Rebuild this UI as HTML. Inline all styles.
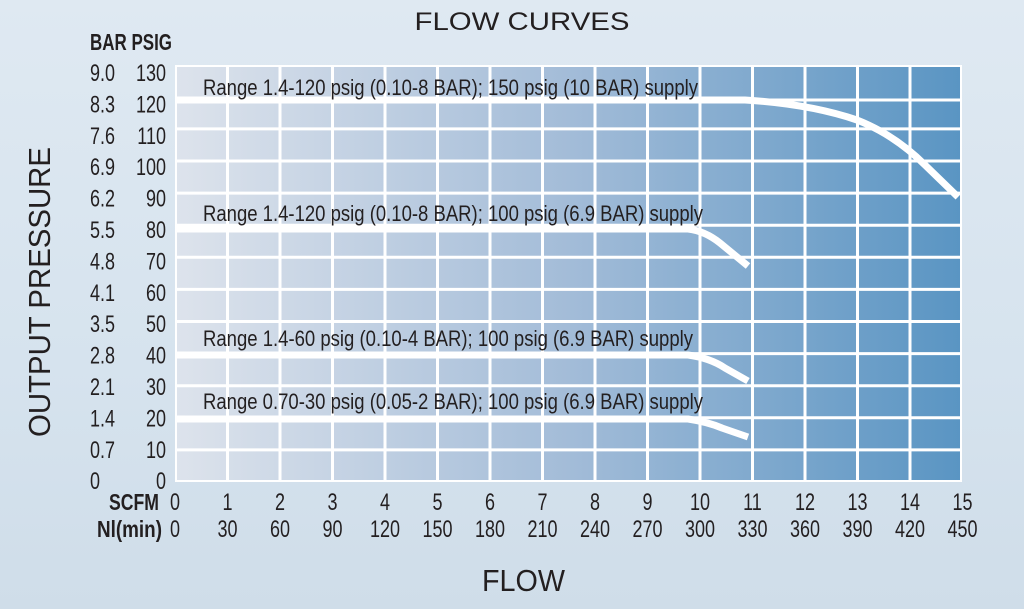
<!DOCTYPE html>
<html><head><meta charset="utf-8"><style>
html,body{margin:0;padding:0;}
body{width:1024px;height:609px;overflow:hidden;background:linear-gradient(180deg,#dfe9f2 0%,#d6e3ee 60%,#cfdde9 100%);}
svg{display:block;font-family:"Liberation Sans",sans-serif;}
</style></head><body>
<svg width="1024" height="609" viewBox="0 0 1024 609" xmlns="http://www.w3.org/2000/svg">
<defs>
<linearGradient id="pg" x1="0" y1="0" x2="1" y2="0">
<stop offset="0" stop-color="#dde3ec"/>
<stop offset="0.5" stop-color="#a3bcd8"/>
<stop offset="1" stop-color="#5a95c3"/>
</linearGradient>
</defs>
<rect x="175" y="65" width="787" height="417" fill="#fff"/>
<rect x="177" y="67" width="783" height="413" fill="url(#pg)"/>
<g stroke="#fff" stroke-width="3">
<line x1="227.5" y1="65" x2="227.5" y2="482"/><line x1="280" y1="65" x2="280" y2="482"/><line x1="332.5" y1="65" x2="332.5" y2="482"/><line x1="385" y1="65" x2="385" y2="482"/><line x1="437.5" y1="65" x2="437.5" y2="482"/><line x1="490" y1="65" x2="490" y2="482"/><line x1="542.5" y1="65" x2="542.5" y2="482"/><line x1="595" y1="65" x2="595" y2="482"/><line x1="647.5" y1="65" x2="647.5" y2="482"/><line x1="700" y1="65" x2="700" y2="482"/><line x1="752.5" y1="65" x2="752.5" y2="482"/><line x1="805" y1="65" x2="805" y2="482"/><line x1="857.5" y1="65" x2="857.5" y2="482"/><line x1="910" y1="65" x2="910" y2="482"/>
<line x1="175" y1="449.9" x2="962" y2="449.9"/><line x1="175" y1="417.8" x2="962" y2="417.8"/><line x1="175" y1="385.7" x2="962" y2="385.7"/><line x1="175" y1="353.6" x2="962" y2="353.6"/><line x1="175" y1="321.5" x2="962" y2="321.5"/><line x1="175" y1="289.4" x2="962" y2="289.4"/><line x1="175" y1="257.3" x2="962" y2="257.3"/><line x1="175" y1="225.2" x2="962" y2="225.2"/><line x1="175" y1="193.1" x2="962" y2="193.1"/><line x1="175" y1="161" x2="962" y2="161"/><line x1="175" y1="128.9" x2="962" y2="128.9"/><line x1="175" y1="100" x2="962" y2="100"/>
</g>
<g stroke="#fff" stroke-width="7" fill="none">
<path d="M175 100 L745 100 Q810 104 857 120 Q895 135 925 165 L958 197"/>
<path d="M175 229 L688 229 Q705 231 720 243 L748 266"/>
<path d="M175 355 L688 355 Q710 358 725 368 L748 381"/>
<path d="M175 419 L688 419 Q708 422 722 428 L748 437"/>
</g>
<g fill="#231f20" font-size="22">
<text x="203" y="95" textLength="495" lengthAdjust="spacingAndGlyphs">Range 1.4-120 psig (0.10-8 BAR); 150 psig (10 BAR) supply</text>
<text x="203" y="221" textLength="500" lengthAdjust="spacingAndGlyphs">Range 1.4-120 psig (0.10-8 BAR); 100 psig (6.9 BAR) supply</text>
<text x="203" y="346" textLength="490" lengthAdjust="spacingAndGlyphs">Range 1.4-60 psig (0.10-4 BAR); 100 psig (6.9 BAR) supply</text>
<text x="203" y="409" textLength="500" lengthAdjust="spacingAndGlyphs">Range 0.70-30 psig (0.05-2 BAR); 100 psig (6.9 BAR) supply</text>
</g>
<text x="522" y="30" font-size="25" text-anchor="middle" fill="#231f20" textLength="215" lengthAdjust="spacingAndGlyphs">FLOW CURVES</text>
<text x="523.5" y="591" font-size="31" text-anchor="middle" fill="#231f20" textLength="83" lengthAdjust="spacingAndGlyphs">FLOW</text>
<text transform="translate(50,292) rotate(-90)" font-size="31" text-anchor="middle" fill="#231f20" textLength="290" lengthAdjust="spacingAndGlyphs">OUTPUT PRESSURE</text>
<text x="90" y="50" font-size="23" font-weight="bold" fill="#231f20" textLength="82" lengthAdjust="spacingAndGlyphs">BAR PSIG</text>
<g font-size="24" fill="#231f20">
<g transform="translate(90,0) scale(0.75,1)">
<text x="0" y="81">9.0</text><text x="0" y="112.4">8.3</text><text x="0" y="143.8">7.6</text><text x="0" y="175.2">6.9</text><text x="0" y="206.6">6.2</text><text x="0" y="238">5.5</text><text x="0" y="269.4">4.8</text><text x="0" y="300.8">4.1</text><text x="0" y="332.2">3.5</text><text x="0" y="363.6">2.8</text><text x="0" y="395">2.1</text><text x="0" y="426.4">1.4</text><text x="0" y="457.8">0.7</text><text x="0" y="489.2">0</text>
</g>
<g transform="translate(166,0) scale(0.75,1)" text-anchor="end">
<text x="0" y="81">130</text><text x="0" y="112.4">120</text><text x="0" y="143.8">110</text><text x="0" y="175.2">100</text><text x="0" y="206.6">90</text><text x="0" y="238">80</text><text x="0" y="269.4">70</text><text x="0" y="300.8">60</text><text x="0" y="332.2">50</text><text x="0" y="363.6">40</text><text x="0" y="395">30</text><text x="0" y="426.4">20</text><text x="0" y="457.8">10</text><text x="0" y="489.2">0</text>
</g>
</g>
<text x="159" y="510" font-size="23" font-weight="bold" text-anchor="end" fill="#231f20" textLength="50" lengthAdjust="spacingAndGlyphs">SCFM</text>
<text x="162" y="537" font-size="23" font-weight="bold" text-anchor="end" fill="#231f20" textLength="65" lengthAdjust="spacingAndGlyphs">Nl(min)</text>
<g font-size="24" fill="#231f20" text-anchor="middle">
<g transform="scale(0.75,1)">
<text x="233.3" y="510">0</text><text x="303.3" y="510">1</text><text x="373.3" y="510">2</text><text x="443.3" y="510">3</text><text x="513.3" y="510">4</text><text x="583.3" y="510">5</text><text x="653.3" y="510">6</text><text x="723.3" y="510">7</text><text x="793.3" y="510">8</text><text x="863.3" y="510">9</text><text x="933.3" y="510">10</text><text x="1003.3" y="510">11</text><text x="1073.3" y="510">12</text><text x="1143.3" y="510">13</text><text x="1213.3" y="510">14</text><text x="1283.3" y="510">15</text>
<text x="233.3" y="537">0</text><text x="303.3" y="537">30</text><text x="373.3" y="537">60</text><text x="443.3" y="537">90</text><text x="513.3" y="537">120</text><text x="583.3" y="537">150</text><text x="653.3" y="537">180</text><text x="723.3" y="537">210</text><text x="793.3" y="537">240</text><text x="863.3" y="537">270</text><text x="933.3" y="537">300</text><text x="1003.3" y="537">330</text><text x="1073.3" y="537">360</text><text x="1143.3" y="537">390</text><text x="1213.3" y="537">420</text><text x="1283.3" y="537">450</text>
</g>
</g>
</svg>
</body></html>
